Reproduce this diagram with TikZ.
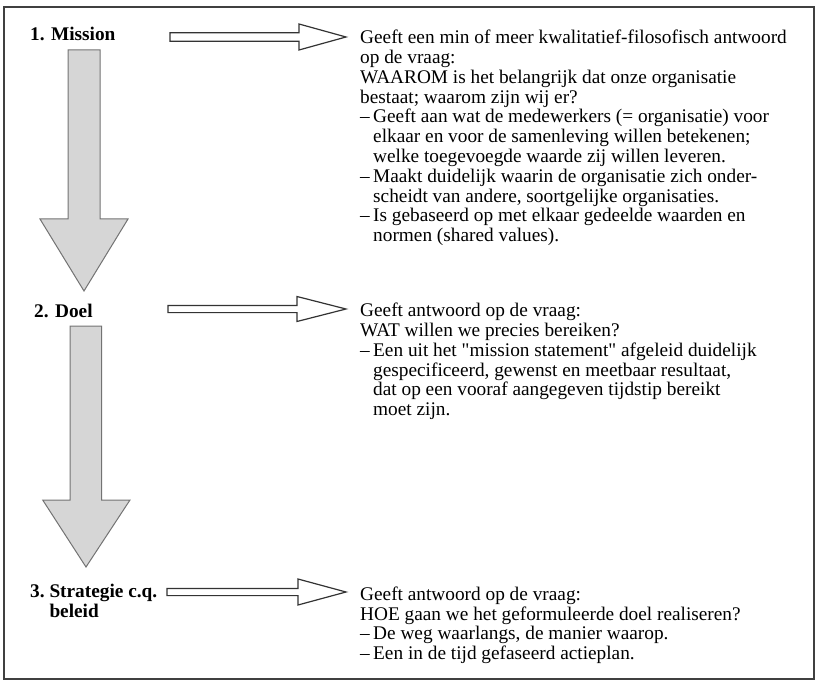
\documentclass[tikz,border=0pt]{standalone}
\usepackage{fontspec}
\setmainfont{Liberation Serif}
\newcommand\dashitem{\makebox[13pt][l]{–}}
\newcommand\contline{\hspace*{13pt}}
\begin{document}
\begin{tikzpicture}[x=1pt,y=-1pt,
  frame/.style={draw=black!75, line width=1.2pt},
  harr/.style={draw=black!80, fill=white, line width=1.2pt, line join=miter},
  varr/.style={draw=black!55, fill=black!16, line width=1pt, line join=miter},
  lbl/.style={font=\fontsize{19.3}{19.8}\selectfont\bfseries, inner sep=0pt, anchor=base west},
  lblm/.style={font=\fontsize{19.3}{19.8}\selectfont\bfseries, inner sep=0pt, anchor=north west},
  txt/.style={font=\fontsize{19.3}{19.8}\selectfont, inner sep=0pt, anchor=north west}]
\useasboundingbox (0,0) rectangle (818,684);
\draw[frame] (4,7) rectangle (814,679);

% labels
\node[lbl] (m1) at (30,41) {1. Mission};
\node[lbl] (m2) at (34,317) {2. Doel};
\node[lblm] (m3) at (30,583.14) {\parbox[t]{150pt}{\strut 3.\ Strategie c.q.\\\hphantom{3.\ }beleid}};

% texts
\node[txt] (t1) at (360,29.64) {\parbox[t]{450pt}{\strut Geeft een min of meer kwalitatief-filosofisch antwoord\\
op de vraag:\\
WAAROM is het belangrijk dat onze organisatie\\
bestaat; waarom zijn wij er?\\
\dashitem Geeft aan wat de medewerkers (= organisatie) voor\\
\contline elkaar en voor de samenleving willen betekenen;\\
\contline welke toegevoegde waarde zij willen leveren.\\
\dashitem Maakt duidelijk waarin de organisatie zich onder-\\
\contline scheidt van andere, soortgelijke organisaties.\\
\dashitem Is gebaseerd op met elkaar gedeelde waarden en\\
\contline normen (shared values).}};

\node[txt] (t2) at (360,302.64) {\parbox[t]{450pt}{\strut Geeft antwoord op de vraag:\\
WAT willen we precies bereiken?\\
\dashitem Een uit het \textquotedbl mission statement\textquotedbl{} afgeleid duidelijk\\
\contline gespecificeerd, gewenst en meetbaar resultaat,\\
\contline dat op een vooraf aangegeven tijdstip bereikt\\
\contline moet zijn.}};

\node[txt] (t3) at (360,586.14) {\parbox[t]{450pt}{\strut Geeft antwoord op de vraag:\\
HOE gaan we het geformuleerde doel realiseren?\\
\dashitem De weg waarlangs, de manier waarop.\\
\dashitem Een in de tijd gefaseerd actieplan.}};

% horizontal block arrows (label -> text)
\draw[harr] (170,37-4.3) -- (299,37-4.3) -- (299,37-13) -- (346,37) -- (299,37+13) -- (299,37+4.3) -- (170,37+4.3) -- cycle;
\draw[harr] (168,309-3.6) -- (297,309-3.6) -- (297,309-12.5) -- (346,309) -- (297,309+12.5) -- (297,309+3.6) -- (168,309+3.6) -- cycle;
\draw[harr] (167,592-3.6) -- (298,592-3.6) -- (298,592-13) -- (346,592) -- (298,592+13) -- (298,592+3.6) -- (167,592+3.6) -- cycle;

% vertical block arrows (step -> step)
\draw[varr] (68,50) -- (100,50) -- (100,219) -- (128,219) -- (84,291) -- (40,219) -- (68,219) -- cycle;
\draw[varr] (70,326) -- (101.7,326) -- (101.7,500) -- (130,500) -- (86,567) -- (42.7,500) -- (70,500) -- cycle;
\end{tikzpicture}
\end{document}
